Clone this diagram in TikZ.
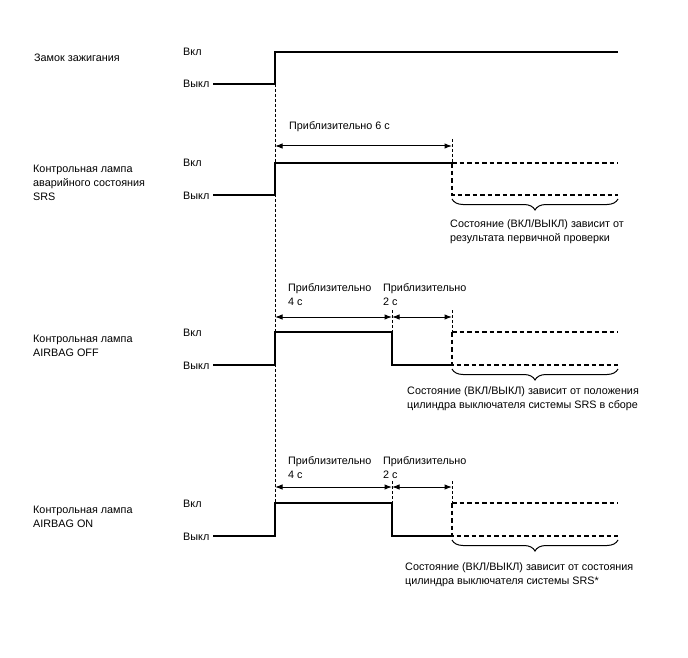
\documentclass[tikz,border=0pt]{standalone}
\usepackage{fontspec}
\setmainfont{Liberation Sans}
\usetikzlibrary{arrows.meta,decorations.pathreplacing}
\begin{document}
\begin{tikzpicture}[x=1pt,y=-1pt,
  every node/.style={font=\fontsize{10.8}{14}\selectfont, inner sep=0pt, align=left},
  sig/.style={line width=1.5pt},
  dsig/.style={line width=1.1pt, dash pattern=on 4.5pt off 3pt},
  guide/.style={line width=0.6pt, dash pattern=on 3pt off 2pt},
  dim/.style={line width=1pt, {Latex[length=7.5pt,width=5.5pt]}-{Latex[length=7.5pt,width=5.5pt]}},
  brc/.style={line width=1pt, decorate, decoration={brace, mirror, amplitude=11pt}},
  lvl/.style={anchor=west},
  ]
\useasboundingbox[fill=white] (0,0) rectangle (688,658);

% ---------- left titles
\node[anchor=west] (t1) at (34,58) {Замок зажигания};
\node[anchor=west] (t2) at (33,183) {Контрольная лампа\\аварийного состояния\\SRS};
\node[anchor=west] (t3) at (33,345.5) {Контрольная лампа\\AIRBAG OFF};
\node[anchor=west] (t4) at (33,517) {Контрольная лампа\\AIRBAG ON};

% ---------- level labels
\node[lvl] (on1) at (183,52) {Вкл};
\node[lvl] (off1) at (183,84) {Выкл};
\node[lvl] (on2) at (183,163) {Вкл};
\node[lvl] (off2) at (183,196) {Выкл};
\node[lvl] (on3) at (183,333) {Вкл};
\node[lvl] (off3) at (183,366) {Выкл};
\node[lvl] (on4) at (183,504) {Вкл};
\node[lvl] (off4) at (183,537) {Выкл};

% ---------- key coordinates
\coordinate (a1) at (213,84);
\coordinate (r1) at (275,84);
\coordinate (h1) at (275,52);
\coordinate (e1) at (618,52);

% guide through the switch-on moment
\draw[guide] (r1) -- (275,503);

% ---------- ignition
\draw[sig] (a1) -- (r1) -- (h1) -- (e1);

% ---------- SRS warning lamp
\coordinate (s0) at (213,195);
\coordinate (s1) at (275,195);
\coordinate (s2) at (275,163);
\coordinate (s3) at (452,163);
\coordinate (s4) at (452,195);
\draw[sig] (s0) -- (s1) -- (s2) -- (s3);
\draw[dsig] (s3) -- (618,163);
\draw[dsig] (s3) -- (s4) -- (618,195);
\draw[guide] (452,139) -- (s3);
\draw[dim] (275,146) -- (452,146);
\node[anchor=west] (d1) at (289,127) {Приблизительно 6 с};
\draw[brc] (452,199) -- (618,199);
\node[anchor=west] (n2) at (450,231.5) {Состояние (ВКЛ/ВЫКЛ) зависит от\\результата первичной проверки};

% ---------- AIRBAG OFF
\coordinate (o0) at (213,365);
\coordinate (o1) at (275,365);
\coordinate (o2) at (275,332);
\coordinate (o3) at (392,332);
\coordinate (o4) at (392,365);
\coordinate (o5) at (452,365);
\coordinate (o6) at (452,332);
\draw[sig] (o0) -- (o1) -- (o2) -- (o3) -- (o4) -- (o5);
\draw[dsig] (o6) -- (618,332);
\draw[dsig] (o6) -- (o5) -- (618,365);
\draw[guide] (392,310) -- (o3);
\draw[guide] (452,310) -- (o6);
\draw[dim] (275,317) -- (392,317);
\draw[dim] (392,317) -- (452,317);
\node[anchor=west] (d2) at (288,294.5) {Приблизительно\\4 с};
\node[anchor=west] (d3) at (383,294.5) {Приблизительно\\2 с};
\draw[brc] (452,369) -- (618,369);
\node[anchor=west] (n3) at (407,399) {Состояние (ВКЛ/ВЫКЛ) зависит от положения\\цилиндра выключателя системы SRS в сборе};

% ---------- AIRBAG ON
\coordinate (p0) at (213,536);
\coordinate (p1) at (275,536);
\coordinate (p2) at (275,503);
\coordinate (p3) at (392,503);
\coordinate (p4) at (392,536);
\coordinate (p5) at (452,536);
\coordinate (p6) at (452,503);
\draw[sig] (p0) -- (p1) -- (p2) -- (p3) -- (p4) -- (p5);
\draw[dsig] (p6) -- (618,503);
\draw[dsig] (p6) -- (p5) -- (618,536);
\draw[guide] (392,481) -- (p3);
\draw[guide] (452,481) -- (p6);
\draw[dim] (275,487) -- (392,487);
\draw[dim] (392,487) -- (452,487);
\node[anchor=west] (d4) at (288,467.5) {Приблизительно\\4 с};
\node[anchor=west] (d5) at (383,467.5) {Приблизительно\\2 с};
\draw[brc] (452,540) -- (618,540);
\node[anchor=west] (n4) at (405,575) {Состояние (ВКЛ/ВЫКЛ) зависит от состояния\\цилиндра выключателя системы SRS*};
\end{tikzpicture}
\end{document}
